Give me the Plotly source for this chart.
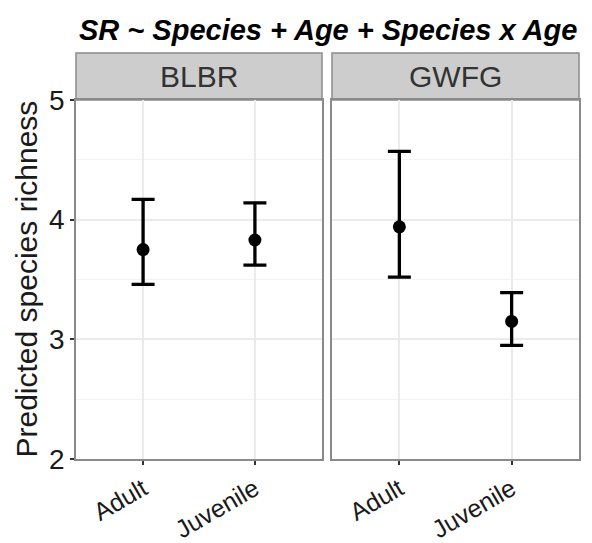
import plotly.graph_objects as go

# ---- data ----
species = ["BLBR", "GWFG"]
ages = ["Adult", "Juvenile"]
blbr_fit = [3.75, 3.83]
blbr_lower = [3.46, 3.62]
blbr_upper = [4.17, 4.14]
gwfg_fit = [3.94, 3.15]
gwfg_lower = [3.52, 2.95]
gwfg_upper = [4.57, 3.39]
y_ticks = [2, 3, 4, 5]

FONT = "Liberation Sans, Arial, sans-serif"
W, H = 592, 543
L, R, T, B = 76, 13, 53, 84
plot_w = W - L - R
plot_h = H - T - B
strip_h = 47
ytop = 1 - strip_h / plot_h
d1 = [0, (322 - L) / plot_w]
d2 = [(332 - L) / plot_w, 1]

fig = go.Figure()
series = [(blbr_fit, blbr_lower, blbr_upper), (gwfg_fit, gwfg_lower, gwfg_upper)]
for i, (fit, lo, up) in enumerate(series):
    ax = "" if i == 0 else "2"
    fig.add_trace(go.Scatter(
        x=ages, y=fit, mode="markers",
        marker=dict(color="black", size=13, symbol="circle"),
        error_y=dict(type="data", symmetric=False,
                     array=[u - f for u, f in zip(up, fit)],
                     arrayminus=[f - l for f, l in zip(fit, lo)],
                     color="black", thickness=3.3, width=11.5),
        xaxis="x" + ax, yaxis="y" + ax, showlegend=False,
    ))

axis_common = dict(
    showline=True, mirror=True, linecolor="#8a8a8a", linewidth=1.5,
    gridcolor="#EBEBEB", gridwidth=1.5, zeroline=False, automargin=False,
    ticks="outside", ticklen=4, tickwidth=1.5, tickcolor="#333333",
    tickfont=dict(family=FONT, size=28, color="#1a1a1a"),
)
xcommon = dict(axis_common, type="category", range=[-0.6, 1.6],
               categoryorder="array", categoryarray=ages, tickangle=-30,
               tickfont=dict(family=FONT, size=25, color="#1a1a1a"))
ycommon = dict(axis_common, range=[2, 5], tickvals=y_ticks,
               minor=dict(dtick=0.5, tick0=2, showgrid=True,
                          gridcolor="#F3F3F3", gridwidth=1, ticklen=0))

fig.update_layout(
    width=W, height=H,
    margin=dict(l=L, r=R, t=T, b=B, autoexpand=False),
    paper_bgcolor="white", plot_bgcolor="white",
    xaxis=dict(xcommon, domain=d1, anchor="y"),
    xaxis2=dict(xcommon, domain=d2, anchor="y2"),
    yaxis=dict(ycommon, domain=[0, ytop], anchor="x"),
    yaxis2=dict(ycommon, domain=[0, ytop], anchor="x2", matches="y",
                showticklabels=False, ticks=""),
)

# strips
for dom, name in zip([d1, d2], species):
    fig.add_shape(type="rect", xref="paper", yref="paper",
                  x0=dom[0], x1=dom[1], y0=ytop, y1=1,
                  fillcolor="#CDCDCD", line=dict(color="#8a8a8a", width=1.5),
                  layer="below")
    fig.add_annotation(x=(dom[0] + dom[1]) / 2, y=(ytop + 1) / 2,
                       xref="paper", yref="paper", text=name, showarrow=False,
                       font=dict(family=FONT, size=30, color="#333333"),
                       xanchor="center", yanchor="middle")

# title
fig.add_annotation(x=0.5, y=1, xref="paper", yref="paper", yshift=23,
                   text="<b><i>SR ~ Species + Age + Species x Age</i></b>",
                   showarrow=False, xanchor="center", yanchor="middle",
                   font=dict(family=FONT, size=29, color="black"))

# y axis title
fig.add_annotation(x=0, y=ytop / 2, xref="paper", yref="paper", xshift=-50,
                   text="Predicted species richness", textangle=-90,
                   showarrow=False, xanchor="center", yanchor="middle",
                   font=dict(family=FONT, size=30, color="#1a1a1a"))

fig.write_html("out.html")
